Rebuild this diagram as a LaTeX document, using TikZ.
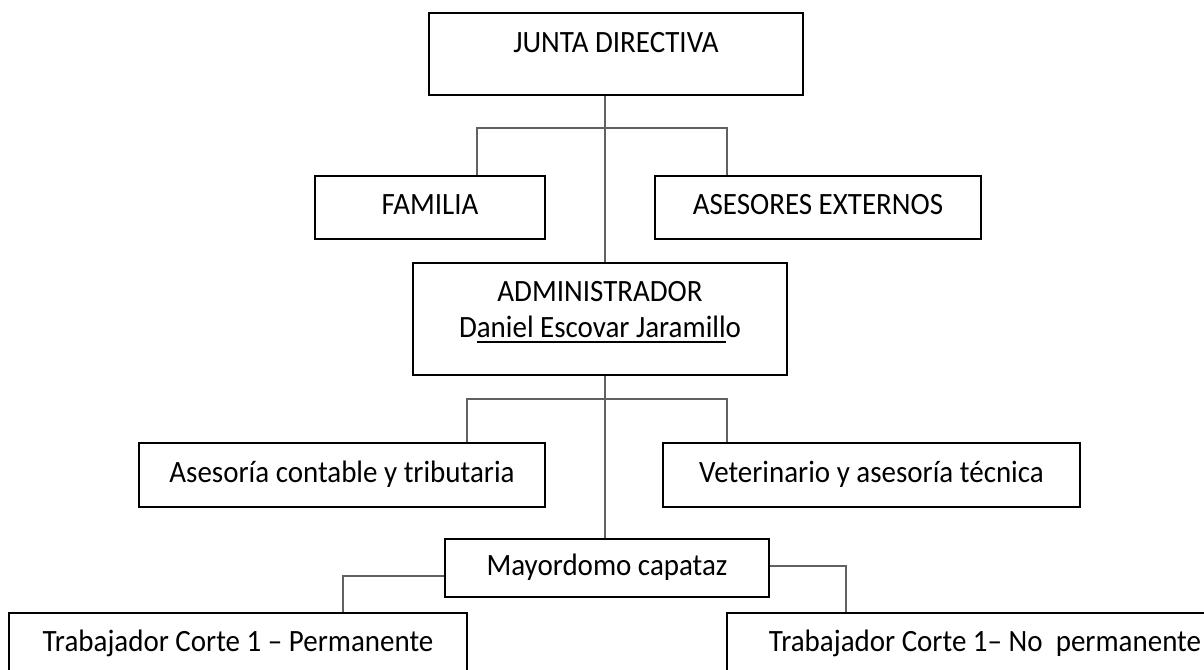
\documentclass[tikz,border=0pt]{standalone}
\usepackage{fontspec}
\setmainfont[FakeStretch=0.935]{Carlito}
\newcommand\ulx[1]{\setbox0\hbox{#1}\rlap{\rule[-2.9pt]{\wd0}{0.7pt}}\box0}
\begin{document}
\begin{tikzpicture}[x=0.5pt,y=-0.5pt,
  every node/.style={font=\fontsize{15.5}{18}\selectfont},
  box/.style={draw=black,line width=1pt,fill=white,rectangle,inner sep=0pt,
    text height=10pt,text depth=3pt},
  conn/.style={draw=black!62,line width=0.65pt}]
\clip (0,0) rectangle (1204,669);
\fill[white] (0,0) rectangle (1204,669);
\coordinate (spine) at (605,0);
\coordinate (b1) at (605,128);
\coordinate (b2) at (605,399);
% nodes
\node[box,minimum width=187pt,minimum height=41pt,text height=10pt,text depth=12pt] (jd) at (616,54) {JUNTA DIRECTIVA};
\node[box,minimum width=115pt,minimum height=31.5pt,text depth=3.5pt] (fam) at (430,207.5) {FAMILIA};
\node[box,minimum width=163pt,minimum height=31.5pt,text depth=3.5pt] (ase) at (818,207.5) {ASESORES EXTERNOS};
\node[box,minimum width=187pt,minimum height=56pt,align=center,text height=,text depth=] (adm) at (600,319)
  {\rule{0pt}{10.5pt}ADMINISTRADOR\\D\ulx{aniel Escovar Jaramill}o\rule[-10.5pt]{0pt}{10.5pt}};
\node[box,minimum width=203pt,minimum height=32pt] (cont) at (342,475) {Asesoría contable y tributaria};
\node[box,minimum width=208.5pt,minimum height=32pt] (vet) at (871.5,475) {Veterinario y asesoría técnica};
\node[box,minimum width=162pt,minimum height=29pt] (may) at (607,568) {Mayordomo capataz};
\node[box,minimum width=229pt,minimum height=38pt,text height=10pt,text depth=10pt] (tl) at (238,651) {Trabajador Corte 1 – Permanente};
\node[box,minimum width=258pt,minimum height=38pt,text height=10pt,text depth=10pt] (tr) at (985,651) {Trabajador Corte 1– No\ \ permanente};
% connectors
\draw[conn] (jd.south -| spine) -- (adm.north -| spine);
\draw[conn] ([xshift=23.5pt]fam.north) |- (b1) -| ([xshift=-45.5pt]ase.north);
\draw[conn] (adm.south -| spine) -- (may.north -| spine);
\draw[conn] ([xshift=62.5pt]cont.north) |- (b2) -| ([xshift=-72.25pt]vet.north);
\draw[conn] ([yshift=-4pt]may.west) -| ([xshift=52.5pt]tl.north);
\draw[conn] ([yshift=1pt]may.east) -| ([xshift=-69.5pt]tr.north);
\end{tikzpicture}
\end{document}
